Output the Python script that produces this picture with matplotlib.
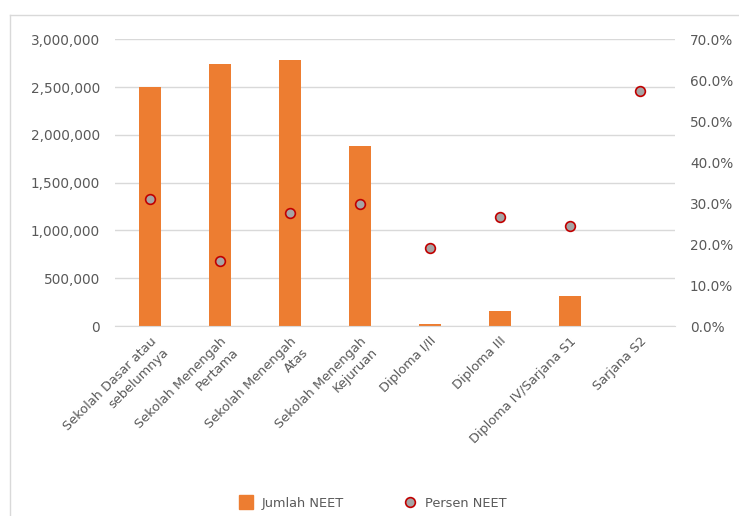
import matplotlib
matplotlib.use('Agg')
import matplotlib.pyplot as plt
from matplotlib.ticker import FuncFormatter
from matplotlib.lines import Line2D

categories = ['Sekolah Dasar atau\nsebelumnya', 'Sekolah Menengah\nPertama',
              'Sekolah Menengah\nAtas', 'Sekolah Menengah\nKejuruan',
              'Diploma I/II', 'Diploma III', 'Diploma IV/Sarjana S1', 'Sarjana S2']
jumlah_neet = [2498000, 2738000, 2780000, 1885000, 20000, 157000, 314000, 4000]
persen_neet = [31.0, 15.9, 27.6, 29.8, 19.0, 26.6, 24.4, 57.3]

orange = '#ed7d31'
grid_c = '#d9d9d9'
text_c = '#595959'

plt.rcParams['font.family'] = ['DejaVu Sans']

fig = plt.figure(figsize=(7.39, 5.16), dpi=100)
ax = fig.add_axes([0.156, 0.368, 0.757, 0.556])
ax2 = ax.twinx()

x = list(range(len(categories)))
ax.bar(x, jumlah_neet, width=0.31, color=orange, zorder=2)
ax2.plot(x, persen_neet, linestyle='none', marker='o', markersize=7,
         markerfacecolor='#a5a5a5', markeredgecolor='#c00000', markeredgewidth=1.2, zorder=3)

ax.set_xlim(-0.5, len(categories) - 0.5)
ax.set_ylim(0, 3000000)
ax2.set_ylim(0, 70)
ax.set_yticks(range(0, 3000001, 500000))
ax2.set_yticks(range(0, 71, 10))
ax.yaxis.set_major_formatter(FuncFormatter(lambda v, p: f'{int(v):,}'))
ax2.yaxis.set_major_formatter(FuncFormatter(lambda v, p: f'{v:.1f}%'))

ax.grid(axis='y', color=grid_c, linewidth=1, zorder=0)
ax.set_axisbelow(True)
for a in (ax, ax2):
    for s in a.spines.values():
        s.set_visible(False)
    a.tick_params(length=0, labelsize=9.8, colors=text_c)
ax.spines['bottom'].set_visible(True)
ax.spines['bottom'].set_color(grid_c)
ax.tick_params(axis='y', pad=11)
ax2.tick_params(axis='y', pad=11)

ax.set_xticks(x)
ax.set_xticklabels(categories, rotation=45, ha='right', rotation_mode='anchor',
                   multialignment='right', fontsize=9.3, color=text_c, linespacing=1.3)
ax.tick_params(axis='x', pad=6)

# outer chart frame
fig.add_artist(Line2D([10 / 739, 1], [1 - 15 / 516, 1 - 15 / 516], color='#d9d9d9', lw=1))
fig.add_artist(Line2D([10 / 739, 10 / 739], [0, 1 - 15 / 516], color='#d9d9d9', lw=1))

handles = [Line2D([], [], linestyle='none', marker='s', markersize=10, color=orange),
           Line2D([], [], linestyle='none', marker='o', markersize=7,
                  markerfacecolor='#a5a5a5', markeredgecolor='#c00000', markeredgewidth=1.2)]
fig.legend(handles, ['Jumlah NEET', 'Persen NEET'], loc='center', ncol=2,
           bbox_to_anchor=(0.501, 0.025), frameon=False, fontsize=9.3,
           labelcolor=text_c, columnspacing=4.1, handletextpad=0.2)

fig.savefig('out.png', dpi=100)
